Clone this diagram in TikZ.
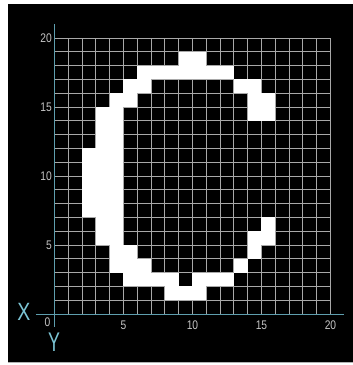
\documentclass[tikz,border=0pt]{standalone}
\usepackage{fontspec}
\setmainfont{Liberation Sans}
\definecolor{gridc}{HTML}{A8A8A8}
\definecolor{axisc}{HTML}{5E9EAE}
\definecolor{labc}{HTML}{7CC4D4}
\definecolor{tickc}{HTML}{C4C4C4}
\begin{document}
\begin{tikzpicture}[x=13.8pt,y=13.8pt,
  gridline/.style={draw=gridc,line width=0.9pt},
  axisline/.style={draw=axisc,line width=1pt},
  ticklab/.style={text=tickc,font=\fontsize{12.5}{12.5}\selectfont,inner sep=0pt,xscale=0.82},
  axlab/.style={text=labc,inner sep=0pt},
  pix/.style={fill=white}]
\useasboundingbox[fill=white] (-54.5pt,-51pt) rectangle (298.5pt,314pt);
\fill[black] (-46.5pt,-48.5pt) rectangle (298.5pt,310pt);
\draw[gray!60,line width=0.6pt] (-46.5pt,-48.6pt) -- (298.5pt,-48.6pt);
% grid
\draw[gridline,step=13.8pt] (0,0) grid (20,20);
% pixels of the letter
\foreach \r/\a/\b in {18/9/10, 17/6/12, 16/5/6, 16/13/14, 15/4/5, 15/14/15,
  14/3/4, 14/14/15, 13/3/4, 12/3/4, 11/2/4, 10/2/4, 9/2/4, 8/2/4, 7/2/4,
  6/3/4, 6/15/15, 5/3/4, 5/14/15, 4/4/5, 4/14/14, 3/4/6, 3/13/13,
  2/5/8, 2/10/12, 1/8/10}
  {\fill[pix] (\a,\r) rectangle ({\b+1},{\r+1});}
% axes
\coordinate (xa) at (-18.5pt,0);
\coordinate (xb) at (289.5pt,0);
\coordinate (ya) at (0,290pt);
\coordinate (yb) at (0,-13pt);
\draw[axisline] (xa) -- (xb);
\draw[axisline] (ya) -- (yb);
% axis letters
\node[axlab,font=\fontsize{25}{25}\selectfont,xscale=0.78] (X) at (-30.5pt,2pt) {X};
\node[axlab,font=\fontsize{27}{27}\selectfont,xscale=0.66] (Y) at (-0.5pt,-28pt) {Y};
% tick labels
\node[ticklab] (x0) at (-7pt,-8.5pt) {0};
\node[ticklab] (x5) at (5,-11pt) {5};
\node[ticklab] (x10) at (10,-11pt) {10};
\node[ticklab] (x15) at (15,-11pt) {15};
\node[ticklab] (x20) at (20,-11pt) {20};
\node[ticklab,anchor=east] (y5) at (-2.5pt,5) {5};
\node[ticklab,anchor=east] (y10) at (-2.5pt,10) {10};
\node[ticklab,anchor=east] (y15) at (-2.5pt,15) {15};
\node[ticklab,anchor=east] (y20) at (-2.5pt,20) {20};
\end{tikzpicture}
\end{document}
